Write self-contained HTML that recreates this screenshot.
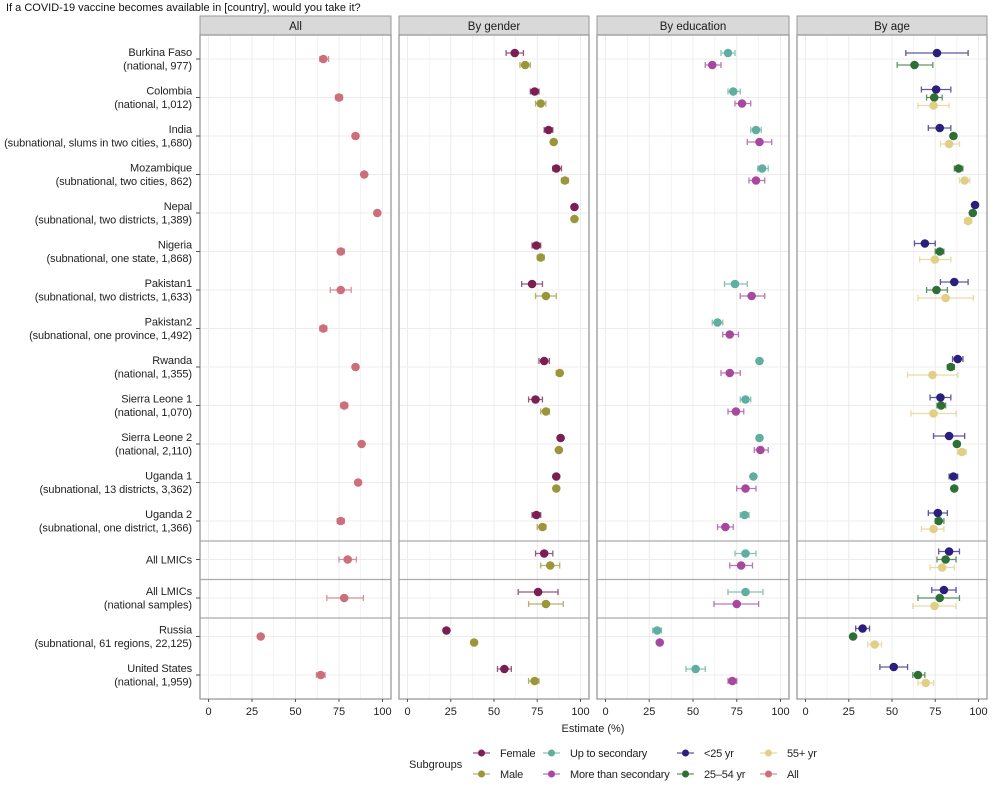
<!DOCTYPE html>
<html><head><meta charset="utf-8"><style>
body{margin:0;background:#fff;font-family:"Liberation Sans",Arial,sans-serif;}
svg text{font-family:"Liberation Sans",Arial,sans-serif;}
</style></head><body>
<svg id="chart" width="1000" height="790" viewBox="0 0 1000 790" xmlns="http://www.w3.org/2000/svg">
<text x="6" y="11" font-size="11" fill="#111">If a COVID-19 vaccine becomes available in [country], would you take it?</text>
<g id="root"></g>
</svg>
<script>
const rowNames=["Burkina Faso","Colombia","India","Mozambique","Nepal","Nigeria","Pakistan1","Pakistan2","Rwanda","Sierra Leone 1","Sierra Leone 2","Uganda 1","Uganda 2","All LMICs","All LMICs","Russia","United States"];
const rowSubs=["(national, 977)","(national, 1,012)","(subnational, slums in two cities, 1,680)","(subnational, two cities, 862)","(subnational, two districts, 1,389)","(subnational, one state, 1,868)","(subnational, two districts, 1,633)","(subnational, one province, 1,492)","(national, 1,355)","(national, 1,070)","(national, 2,110)","(subnational, 13 districts, 3,362)","(subnational, one district, 1,366)","","(national samples)","(subnational, 61 regions, 22,125)","(national, 1,959)"];
const panelTitles=["All","By gender","By education","By age"];
const xTicks=[0,25,50,75,100];
const allV=[66,75,84.5,89.5,97,76,76,66,84.5,78,88,86,76,80,78,30,64.5];
const allLo=[64,73,83,88,96,75,70,64,83,76,87,85,74,75,68,29,62];
const allHi=[69,77,86,91,98,78,82,68,86,80,89,87,78,85,89,31,67];
const femV=[62,73.5,81.5,86,96.5,74.5,72,null,79,74,88.5,86,74.5,79,75.5,22.5,56];
const femLo=[57,71,79,84,95.5,72,66,null,76,70,87,85,72,74,64,22,52];
const femHi=[67,76,84,89,97.5,77,78,null,82,78,90,87,77,84,87,23,60];
const maleV=[68,77,84.5,91,96.5,77,80,null,88,80,87.5,86,78,82.5,80,38.5,73.5];
const maleLo=[65,74,83,89,96,75,74,null,86,77,86.5,85,75,77,70,37,70];
const maleHi=[71,80,86,93,97,79,86,null,89,82,88.5,87,80,88,90,40,76];
const upV=[70,73,86,89.5,null,null,74,64,88,80,88,84.5,79.5,80,80,29.5,51.5];
const upLo=[66,70,83,87,null,null,68,61,87,77,87,84,77,74,70,27,46];
const upHi=[74,77,89,93,null,null,81,67,89,83,89,85,82,86,90,32,57];
const moreV=[61,78,88,86,null,null,83.5,71,71,74.5,88.5,80,68.5,77.5,75,31,72.5];
const moreLo=[57,74,81,82,null,null,77,67,66,70,85,75,64,71,62,30.5,70];
const moreHi=[66,83,95,91,null,null,91,76,77,79,93,86,73,84,87.5,31.5,75];
const y25V=[76,75.5,77.6,null,98,69,86,null,88,78,83,85.5,76.5,83,80,33,51];
const y25Lo=[58,67,71,null,97,63,78,null,85,72,74,83,71,77,73,29,43];
const y25Hi=[94,84,84,null,99,75,94,null,91,84,92,88,82,89,87,37,59];
const y2554V=[63,74.4,85.5,88.5,96.7,77.6,75.7,null,84,78.4,87.5,86,77,81,77.6,27.5,65];
const y2554Lo=[53,70,84,86,96,75,70,null,82,76,86,85.5,75,76,65,27,62];
const y2554Hi=[73.6,79,87,91,97.4,80,82,null,86,81,89,86.5,80,87,89,28,69];
const y55V=[null,74,83,92,94,74.8,81,null,73.4,74,90.4,null,74,79,74.6,40,69.5];
const y55Lo=[null,65,78,89,92,66,65,null,59,61,88,null,67,72,62,36,65];
const y55Hi=[null,83,89,95,96,84,97,null,88,87,93,null,80,86,87,44,74];

const C={fem:"#7a1f52",male:"#9c963a",up:"#5fae9f",more:"#a6489e",y25:"#2b1f7d",y2554:"#2f6f36",y55:"#e2cf86",all:"#cd6e7b"};
const panels=[{x0:200,x1:391},{x0:399,x1:589},{x0:597,x1:789},{x0:797,x1:987}];
const pTop=35,pBot=699,stripTop=16;
const rowY0=59,rowStep=38.5;
const NS="http://www.w3.org/2000/svg";
const root=document.getElementById('root');
function mk(tag,attrs,parent){const e=document.createElementNS(NS,tag);for(const k in attrs)e.setAttribute(k,attrs[k]);(parent||root).appendChild(e);return e;}
function xScale(p,v){const a=panels[p].x0+8.5,b=panels[p].x1-8.5;return a+(b-a)*v/100;}
function yScale(i){return rowY0+i*rowStep;}

const panelSeries=[
 [{v:allV,lo:allLo,hi:allHi,c:C.all,n:"all"}],
 [{v:femV,lo:femLo,hi:femHi,c:C.fem,n:"female"},{v:maleV,lo:maleLo,hi:maleHi,c:C.male,n:"male"}],
 [{v:upV,lo:upLo,hi:upHi,c:C.up,n:"up-to-secondary"},{v:moreV,lo:moreLo,hi:moreHi,c:C.more,n:"more-than-secondary"}],
 [{v:y25V,lo:y25Lo,hi:y25Hi,c:C.y25,n:"under-25"},{v:y2554V,lo:y2554Lo,hi:y2554Hi,c:C.y2554,n:"age-25-54"},{v:y55V,lo:y55Lo,hi:y55Hi,c:C.y55,n:"age-55-plus"}]
];

panels.forEach((P,p)=>{
  const g=mk('g',{});
  
  
  const strip=mk('rect',{x:P.x0,y:stripTop,width:P.x1-P.x0,height:pTop-stripTop,fill:"#d9d9d9",stroke:"#999","stroke-width":1},g);
  
  
  const st=mk('text',{x:(P.x0+P.x1)/2,y:30,"font-size":11.5,"text-anchor":"middle",fill:"#1a1a1a"},g);
  st.textContent=panelTitles[p];
  
  
  for(let v=0;v<=100;v+=12.5){mk('line',{x1:xScale(p,v),x2:xScale(p,v),y1:pTop,y2:pBot,stroke:"#ececec","stroke-width":v%25==0?1:0.6},g);}
  rowNames.forEach((r,i)=>{mk('line',{x1:P.x0,x2:P.x1,y1:yScale(i),y2:yScale(i),stroke:"#ececec","stroke-width":1},g);});
  [541,579.5,618].forEach(y=>{mk('line',{x1:P.x0,x2:P.x1,y1:y,y2:y,stroke:"#aaa","stroke-width":1.3},g);});
  const fr=mk('rect',{x:P.x0,y:pTop,width:P.x1-P.x0,height:pBot-pTop,fill:"none",stroke:"#999","stroke-width":1.3},g);
  
  
  xTicks.forEach(t=>{
    mk('line',{x1:xScale(p,t),x2:xScale(p,t),y1:pBot,y2:pBot+3,stroke:"#555"},g);
    const tt=mk('text',{x:xScale(p,t),y:pBot+16,"font-size":11,"text-anchor":"middle",fill:"#222"},g);
    tt.textContent=t;
    
    
  });
  const series=panelSeries[p];
  rowNames.forEach((r,i)=>{
    const present=series.filter(s=>s.v[i]!==null);
    const n=present.length;
    present.forEach((s,k)=>{
      const off=n>1?24*(k-(n-1)/2)/n:0;
      const y=yScale(i)+off;
      const xl=xScale(p,s.lo[i]),xh=xScale(p,s.hi[i]);
      const eb=mk('path',{d:`M${xl},${y}H${xh}M${xl},${y-3}V${y+3}M${xh},${y-3}V${y+3}`,stroke:s.c,"stroke-width":1.3,"stroke-opacity":0.75,fill:"none"},g);
      
      
      const pt=mk('circle',{cx:xScale(p,s.v[i]),cy:y,r:4.3,fill:s.c},g);
      
      
    });
  });
});
rowNames.forEach((r,i)=>{
  const y=yScale(i);
  mk('line',{x1:196,x2:200,y1:y,y2:y,stroke:"#555"});
  const t=mk('text',{x:192,"font-size":11,"text-anchor":"end",fill:"#222","letter-spacing":"-0.1"});
  
  
  if(rowSubs[i]){
    const a=mk('tspan',{x:192,y:y-3},t);a.textContent=r;
    const b=mk('tspan',{x:192,y:y+10.5},t);b.textContent=rowSubs[i];
  } else {t.setAttribute('y',y+4);t.textContent=r;}
});
const at=mk('text',{x:593,y:732,"font-size":11,"text-anchor":"middle",fill:"#222"});
at.textContent="Estimate (%)";


const lg=mk('g',{});


const lt=mk('text',{x:409,y:768,"font-size":11,fill:"#222"},lg);
lt.textContent="Subgroups";
const legendItems=[["Female",C.fem,473,753],["Male",C.male,473,774],["Up to secondary",C.up,543,753],["More than secondary",C.more,543,774],["<25 yr",C.y25,677,753],["25–54 yr",C.y2554,677,774],["55+ yr",C.y55,760,753],["All",C.all,760,774]];
legendItems.forEach(it=>{
  const e=mk('g',{},lg);
  
  
  mk('line',{x1:it[2],x2:it[2]+17,y1:it[3],y2:it[3],stroke:it[1],"stroke-width":1.3,"stroke-opacity":0.75},e);
  mk('circle',{cx:it[2]+8.5,cy:it[3],r:3.5,fill:it[1]},e);
  const t=mk('text',{x:it[2]+27,y:it[3]+4,"font-size":11,fill:"#222","letter-spacing":"-0.2"},e);
  t.textContent=it[0];
});
</script>
</body></html>
